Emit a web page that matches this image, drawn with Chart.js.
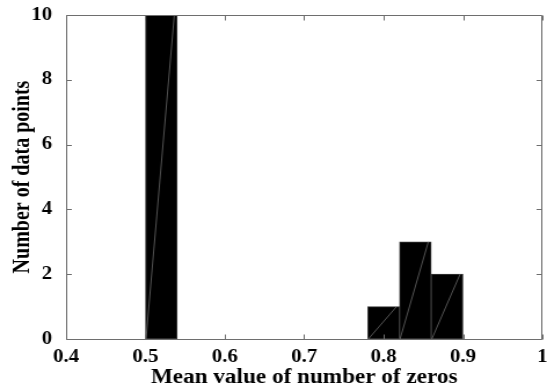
<!DOCTYPE html>
<html>
<head>
<meta charset="utf-8">
<script src="https://cdn.jsdelivr.net/npm/chart.js@4"></script>
<style>
html,body{margin:0;padding:0;background:#fff;overflow:hidden;}
#c{display:block;width:547px;height:390px;}
</style>
</head>
<body>
<canvas id="c" width="472" height="390" style="width:547px;height:390px;"></canvas>
<script>
// Histogram bins (centres), bin width and counts
const binCenters = [0.52, 0.56, 0.60, 0.64, 0.68, 0.72, 0.76, 0.80, 0.84, 0.88];
const binWidth = 0.04;
const counts = [10, 0, 0, 0, 0, 0, 0, 1, 3, 2];
const xTicks = [0.4, 0.5, 0.6, 0.7, 0.8, 0.9, 1];
const yTicks = [0, 2, 4, 6, 8, 10];
const xTitle = 'Mean value of number of zeros';
const yTitle = 'Number of data points';

const FAMILY = '"Liberation Serif", "Times New Roman", serif';
const TICK_FONT = {family: FAMILY, weight: 'bold', size: 18, lineHeight: 1.2};
const LABEL_FONT = {family: FAMILY, weight: 'bold', size: 20, lineHeight: 1.2};
const AXIS_COLOR = '#6e6e6e';

const boxPlugin = {
  id: 'box',
  afterDatasetsDraw(chart) {
    const {ctx, chartArea: a, scales} = chart;
    const xs = scales.x, ys = scales.y;
    // faint diagonal seams inside the filled bars
    ctx.save();
    ctx.beginPath();
    ctx.rect(a.left, a.top, a.right - a.left, a.bottom - a.top);
    ctx.clip();
    ctx.strokeStyle = '#8a8a8a';
    ctx.lineWidth = 0.6;
    binCenters.forEach((c, i) => {
      if (counts[i] <= 0) return;
      const x0 = xs.getPixelForValue(c - binWidth / 2);
      const x1 = xs.getPixelForValue(c + binWidth / 2);
      const y0 = ys.getPixelForValue(0);
      const y1 = ys.getPixelForValue(counts[i]);
      ctx.beginPath();
      ctx.moveTo(x0 + 0.5, y0);
      ctx.lineTo(x1 - 2.5, y1);
      ctx.stroke();
    });
    ctx.restore();

    // axes box with inward ticks
    ctx.save();
    ctx.strokeStyle = AXIS_COLOR;
    ctx.lineWidth = 1;
    const L = Math.round(a.left) + 0.5, R = Math.round(a.right) - 0.5;
    const T = Math.round(a.top) + 0.5, B = Math.round(a.bottom) + 0.5;
    ctx.beginPath();
    ctx.moveTo(L, T); ctx.lineTo(R, T); ctx.lineTo(R, B); ctx.lineTo(L, B); ctx.closePath();
    const tlx = 4.5, tly = 5;
    xTicks.forEach(v => {
      const px = Math.round(xs.getPixelForValue(v)) + 0.5;
      ctx.moveTo(px, B); ctx.lineTo(px, B - tly);
      ctx.moveTo(px, T); ctx.lineTo(px, T + tly);
    });
    yTicks.forEach(v => {
      const py = Math.round(ys.getPixelForValue(v)) + 0.5;
      ctx.moveTo(L, py); ctx.lineTo(L + tlx, py);
      ctx.moveTo(R, py); ctx.lineTo(R - tlx, py);
    });
    ctx.stroke();
    ctx.restore();
  }
};

new Chart(document.getElementById('c'), {
  type: 'bar',
  data: {
    datasets: [{
      data: binCenters.map((c, i) => ({x: c, y: counts[i]})),
      backgroundColor: '#000',
      borderColor: '#3a3a3a',
      borderWidth: 1,
      borderSkipped: false,
      barPercentage: 1,
      categoryPercentage: 1
    }]
  },
  options: {
    responsive: false,
    animation: false,
    devicePixelRatio: 1,
    layout: {padding: {left: 0, right: 4, top: 15, bottom: 0}},
    plugins: {legend: {display: false}, tooltip: {enabled: false}},
    scales: {
      x: {
        type: 'linear',
        offset: false,
        min: 0.4, max: 1,
        afterBuildTicks: s => { s.ticks = xTicks.map(v => ({value: v})); },
        afterFit: s => { s.height = 51; s.paddingLeft = 0; s.paddingRight = 0; },
        grid: {display: false, drawTicks: false, offset: false},
        border: {display: false},
        ticks: {
          color: '#000', font: TICK_FONT, padding: 8, maxRotation: 0, autoSkip: false,
          callback: v => String(v)
        },
        title: {display: true, text: xTitle, color: '#000', font: LABEL_FONT, padding: {top: 0, bottom: 0}}
      },
      y: {
        min: 0, max: 10,
        afterBuildTicks: s => { s.ticks = yTicks.map(v => ({value: v})); },
        afterFit: s => { s.width = 57; s.paddingTop = 0; s.paddingBottom = 0; },
        grid: {display: false, drawTicks: false},
        border: {display: false},
        ticks: {color: '#000', font: TICK_FONT, padding: 12, callback: v => String(v)},
        title: {display: true, text: yTitle, color: '#000', font: LABEL_FONT, padding: {top: 8, bottom: 0}}
      }
    }
  },
  plugins: [boxPlugin]
});
</script>
</body>
</html>
